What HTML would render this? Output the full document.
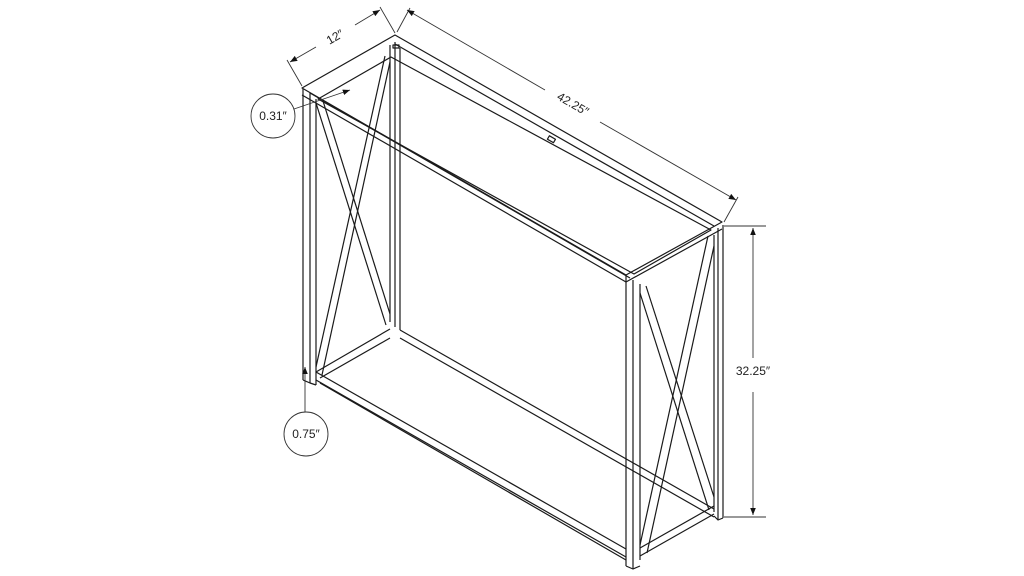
<!DOCTYPE html>
<html><head><meta charset="utf-8"><style>
html,body{margin:0;padding:0;background:#fff;}
svg{display:block}
text{font-family:"Liberation Sans",sans-serif;font-size:12px;fill:#222}
</style></head><body>
<svg width="1024" height="576" viewBox="0 0 1024 576" xmlns="http://www.w3.org/2000/svg">
<defs>
<marker id="ar" viewBox="0 0 10 10" refX="10" refY="5" markerWidth="8" markerHeight="8" orient="auto-start-reverse"><path d="M0,1 L10,5 L0,9 z" fill="#111"/></marker>
</defs>
<g stroke="#1a1a1a" stroke-width="1.2" fill="none" stroke-linejoin="round">
<!-- top frame -->
<polygon points="302,88 395,35 722,222 626,275"/>
<polyline points="302,95 626,282 722,229"/>
<polygon points="318,99 391,57 711,230 634,274"/>
<line x1="310" y1="93" x2="630" y2="278"/>
<line x1="395" y1="44" x2="714" y2="226"/>
<!-- legs -->
<line x1="303" y1="89" x2="303" y2="380"/>
<line x1="310" y1="93" x2="310" y2="383"/>
<line x1="316" y1="99" x2="316" y2="385"/>
<line x1="390" y1="45" x2="390" y2="322"/>
<line x1="395" y1="42" x2="395" y2="327"/>
<line x1="400" y1="48" x2="400" y2="330"/>
<line x1="626" y1="275" x2="626" y2="566"/>
<line x1="633" y1="280" x2="633" y2="569"/>
<line x1="640" y1="284" x2="640" y2="560"/>
<line x1="714" y1="235" x2="714" y2="512"/>
<line x1="718" y1="228" x2="718" y2="520"/>
<line x1="723" y1="225" x2="723" y2="518"/>
<path d="M303,380 L310,383 L316,385"/>
<path d="M626,566 L633,569 L640,566"/>
<path d="M714,516 L718,520 L723,518"/>
<!-- bottom frame -->
<line x1="316" y1="372" x2="626" y2="549"/>
<line x1="316" y1="380" x2="626" y2="557"/>
<line x1="320" y1="383" x2="626" y2="560"/>
<line x1="316" y1="372" x2="390" y2="329"/>
<line x1="320" y1="378" x2="390" y2="338"/>
<line x1="400" y1="330" x2="714" y2="509"/>
<line x1="400" y1="338" x2="714" y2="517"/>
<line x1="640" y1="548" x2="714" y2="506"/>
<line x1="640" y1="556" x2="714" y2="514"/>
<!-- left X -->
<line x1="316" y1="103" x2="386" y2="325"/>
<line x1="323" y1="101" x2="390" y2="314"/>
<line x1="385" y1="56" x2="316" y2="367"/>
<line x1="390" y1="62" x2="322" y2="375"/>
<!-- right X -->
<line x1="640" y1="293" x2="709" y2="510"/>
<line x1="646" y1="286" x2="714" y2="497"/>
<line x1="708" y1="236" x2="640" y2="545"/>
<line x1="714" y1="246" x2="647" y2="553"/>
<rect x="548" y="137" width="7" height="4" transform="rotate(30 551 139)"/>
<rect x="393" y="45" width="6" height="3"/>
</g>
<!-- dimensions -->
<g stroke="#333" stroke-width="0.9" fill="none">
<line x1="302" y1="86" x2="287" y2="60"/>
<line x1="395" y1="33" x2="380" y2="7"/>
<line x1="290" y1="62" x2="316" y2="47" marker-start="url(#ar)"/>
<line x1="355" y1="25" x2="380" y2="10" marker-end="url(#ar)"/>
<line x1="397" y1="32" x2="410" y2="8"/>
<line x1="724" y1="222" x2="738" y2="197"/>
<line x1="407" y1="10" x2="545" y2="90" marker-start="url(#ar)"/>
<line x1="600" y1="122" x2="736" y2="200" marker-end="url(#ar)"/>
<line x1="724" y1="226" x2="766" y2="226"/>
<line x1="724" y1="517" x2="766" y2="517"/>
<line x1="753" y1="228" x2="753" y2="358" marker-start="url(#ar)"/>
<line x1="753" y1="392" x2="753" y2="515" marker-end="url(#ar)"/>
<circle cx="273" cy="116" r="22"/>
<line x1="294" y1="109" x2="350" y2="90" marker-end="url(#ar)"/>
<circle cx="306" cy="434" r="22"/>
<line x1="305" y1="412" x2="305" y2="367" marker-end="url(#ar)"/>
</g>
<text x="335" y="41" text-anchor="middle" transform="rotate(-30 335 37)">12″</text>
<text x="573" y="108" text-anchor="middle" transform="rotate(30 573 104)">42.25″</text>
<text x="753" y="375" text-anchor="middle">32.25″</text>
<text x="273" y="120" text-anchor="middle">0.31″</text>
<text x="306" y="438" text-anchor="middle">0.75″</text>
</svg>
</body></html>
